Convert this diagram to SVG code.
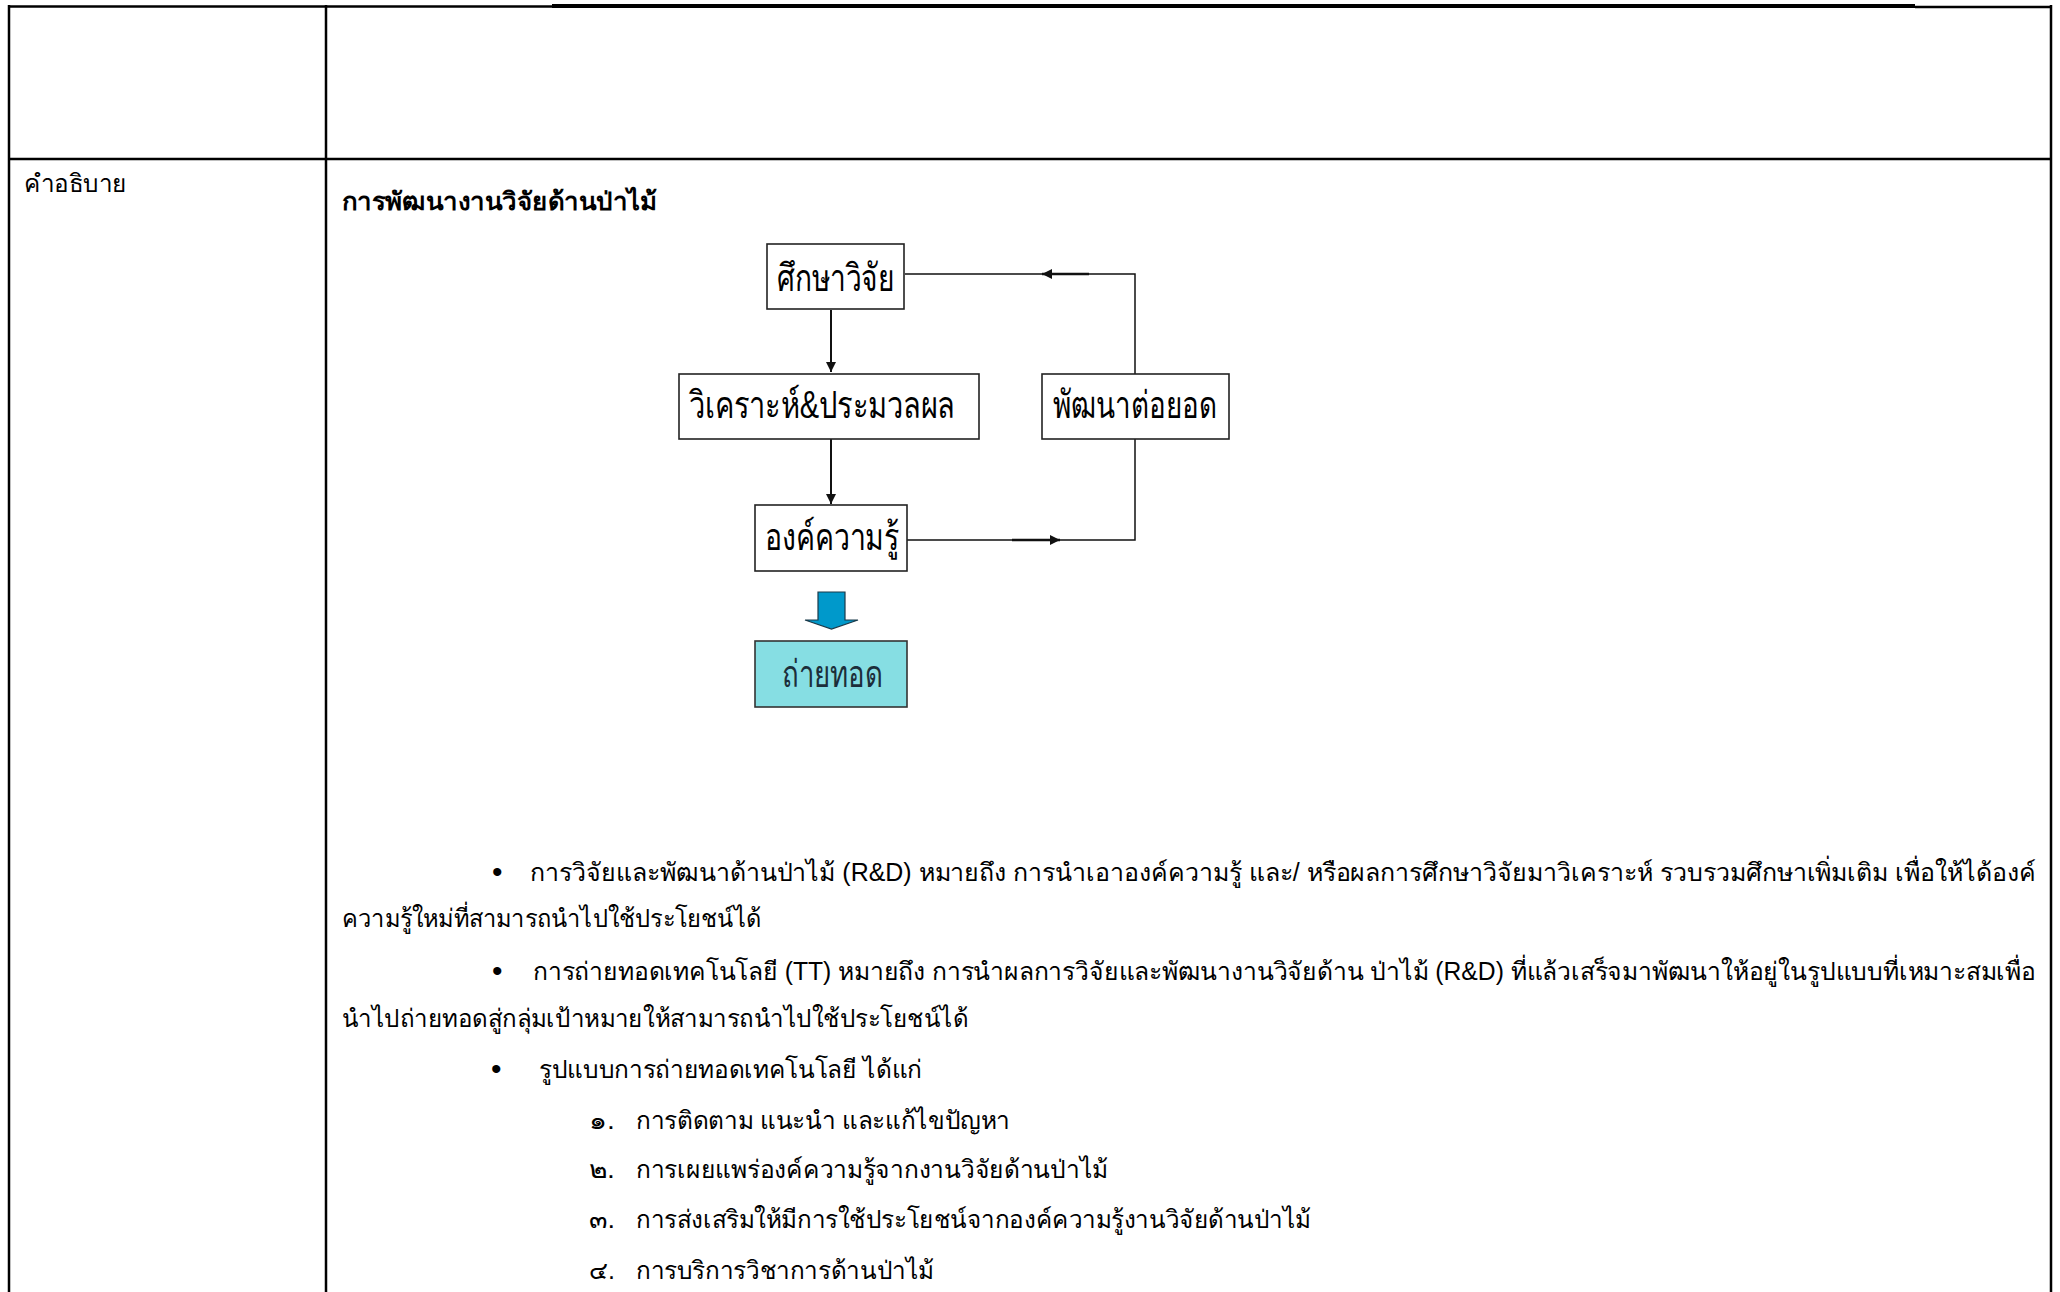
<svg xmlns="http://www.w3.org/2000/svg" width="2060" height="1292" viewBox="0 0 2060 1292">
<style>
.grid{stroke:#000;stroke-width:2.5;fill:none}
.box{fill:#fff;stroke:#222;stroke-width:1.6}
.lbl{font-family:'Liberation Sans','Noto Sans',sans-serif;font-size:38px;fill:#000}
.body{font-family:'Liberation Sans','Noto Sans',sans-serif;font-size:25px;fill:#000}
.bul{font-family:'Liberation Sans','Noto Sans',sans-serif;font-size:30px;fill:#000}
.conn{stroke:#111;stroke-width:1.5;fill:none}
.dn{stroke:#111;stroke-width:2;fill:none}
.arr{stroke:#111;stroke-width:2.4;fill:none}
</style>
<defs>
<marker id="ah" markerUnits="userSpaceOnUse" markerWidth="12" markerHeight="10" refX="10" refY="5" orient="auto">
<path d="M0,0 L10,5 L0,10 Z" fill="#111"/>
</marker>
</defs>
<rect width="2060" height="1292" fill="#fff"/>
<g id="table">
<line class="grid" x1="9" y1="6.5" x2="552" y2="6.5"/>
<line x1="552" y1="6" x2="1915" y2="6" stroke="#000" stroke-width="4"/>
<line class="grid" x1="1915" y1="7" x2="2051" y2="7"/>
<line class="grid" x1="9" y1="5" x2="9" y2="1292"/>
<line class="grid" x1="326" y1="5" x2="326" y2="1292"/>
<line class="grid" x1="2051" y1="5" x2="2051" y2="1292"/>
<line class="grid" x1="9" y1="159" x2="2051" y2="159"/>
</g>
<g id="labels">
<text class="body" x="24" y="192" textLength="103" lengthAdjust="spacingAndGlyphs">คำอธิบาย</text>
<text class="body" x="342" y="210" font-weight="bold" textLength="315" lengthAdjust="spacingAndGlyphs">การพัฒนางานวิจัยด้านป่าไม้</text>
</g>
<g id="connectors">
<line class="dn" x1="831" y1="310" x2="831" y2="372" marker-end="url(#ah)"/>
<line class="dn" x1="831" y1="439" x2="831" y2="504" marker-end="url(#ah)"/>
<polyline class="conn" points="907,540 1135,540 1135,439"/>
<line class="arr" x1="1012" y1="540" x2="1060" y2="540" marker-end="url(#ah)"/>
<polyline class="conn" points="1135,374 1135,274 905,274"/>
<line class="arr" x1="1089" y1="274" x2="1042" y2="274" marker-end="url(#ah)"/>
</g>
<g id="n-study">
<rect class="box" x="767" y="244" width="137" height="65"/>
<text class="lbl" x="777" y="291" textLength="117" lengthAdjust="spacingAndGlyphs">ศึกษาวิจัย</text>
</g>
<g id="n-analyze">
<rect class="box" x="679" y="374" width="300" height="65"/>
<text class="lbl" x="689" y="418" textLength="266" lengthAdjust="spacingAndGlyphs">วิเคราะห์&amp;ประมวลผล</text>
</g>
<g id="n-develop">
<rect class="box" x="1042" y="374" width="187" height="65"/>
<text class="lbl" x="1053" y="418" textLength="164" lengthAdjust="spacingAndGlyphs">พัฒนาต่อยอด</text>
</g>
<g id="n-knowledge">
<rect class="box" x="755" y="505" width="152" height="66"/>
<text class="lbl" x="765" y="550" textLength="134" lengthAdjust="spacingAndGlyphs">องค์ความรู้</text>
</g>
<g id="n-arrow">
<path d="M818,592 L845,592 L845,620 L858,620 L831.5,629 L805,620 L818,620 Z" fill="#0099cb" stroke="#1b3a4a" stroke-width="1.2"/>
</g>
<g id="n-transfer">
<rect x="755" y="641" width="152" height="66" fill="#86dee3" stroke="#333" stroke-width="1.6"/>
<text class="lbl" x="782" y="687" textLength="101" lengthAdjust="spacingAndGlyphs" style="fill:#1c2e3a">ถ่ายทอด</text>
</g>
<g id="body-text">
<text class="bul" x="492" y="882">•</text>
<text class="body" x="530" y="881" textLength="1506" lengthAdjust="spacingAndGlyphs">การวิจัยและพัฒนาด้านป่าไม้ (R&amp;D) หมายถึง การนำเอาองค์ความรู้ และ/ หรือผลการศึกษาวิจัยมาวิเคราะห์ รวบรวมศึกษาเพิ่มเติม เพื่อให้ได้องค์</text>
<text class="body" x="342" y="927" textLength="419" lengthAdjust="spacingAndGlyphs">ความรู้ใหม่ที่สามารถนำไปใช้ประโยชน์ได้</text>
<text class="bul" x="492" y="981">•</text>
<text class="body" x="533" y="980" textLength="1503" lengthAdjust="spacingAndGlyphs">การถ่ายทอดเทคโนโลยี (TT) หมายถึง การนำผลการวิจัยและพัฒนางานวิจัยด้าน ป่าไม้ (R&amp;D) ที่แล้วเสร็จมาพัฒนาให้อยู่ในรูปแบบที่เหมาะสมเพื่อ</text>
<text class="body" x="342" y="1027" textLength="626" lengthAdjust="spacingAndGlyphs">นำไปถ่ายทอดสู่กลุ่มเป้าหมายให้สามารถนำไปใช้ประโยชน์ได้</text>
<text class="bul" x="491" y="1079">•</text>
<text class="body" x="539" y="1078" textLength="383" lengthAdjust="spacingAndGlyphs">รูปแบบการถ่ายทอดเทคโนโลยี ได้แก่</text>
<text class="body" x="589" y="1129" textLength="26" lengthAdjust="spacingAndGlyphs">๑.</text>
<text class="body" x="636" y="1129" textLength="374" lengthAdjust="spacingAndGlyphs">การติดตาม แนะนำ และแก้ไขปัญหา</text>
<text class="body" x="589" y="1178" textLength="26" lengthAdjust="spacingAndGlyphs">๒.</text>
<text class="body" x="636" y="1178" textLength="472" lengthAdjust="spacingAndGlyphs">การเผยแพร่องค์ความรู้จากงานวิจัยด้านป่าไม้</text>
<text class="body" x="589" y="1228" textLength="26" lengthAdjust="spacingAndGlyphs">๓.</text>
<text class="body" x="636" y="1228" textLength="675" lengthAdjust="spacingAndGlyphs">การส่งเสริมให้มีการใช้ประโยชน์จากองค์ความรู้งานวิจัยด้านป่าไม้</text>
<text class="body" x="589" y="1279" textLength="26" lengthAdjust="spacingAndGlyphs">๔.</text>
<text class="body" x="636" y="1279" textLength="298" lengthAdjust="spacingAndGlyphs">การบริการวิชาการด้านป่าไม้</text>
</g>
</svg>
